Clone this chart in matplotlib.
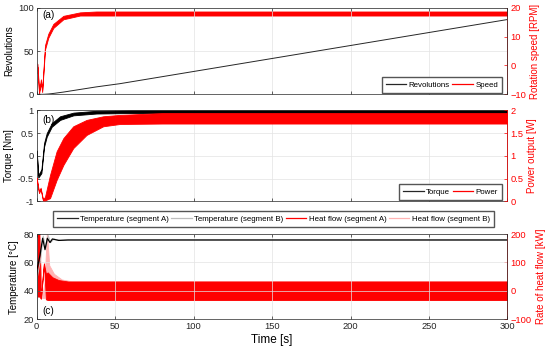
import numpy as np
import matplotlib
matplotlib.use("Agg")
import matplotlib.pyplot as plt
from matplotlib.lines import Line2D

plt.rcParams['font.family'] = ['Liberation Sans', 'DejaVu Sans']
plt.rcParams['font.size'] = 6

# (a) revolutions and rotation speed
t_rev = [0, 3, 5, 7.5, 10.5, 17, 27.5, 38, 53, 104, 150, 200, 250, 300]
revolutions = [0, 0, 0.1, 0.4, 1.0, 2.6, 5.6, 8.6, 12.3, 27.6, 41.4, 56.4, 71.4, 86.4]

t_speed = [0, 0.5, 1.5, 2.7, 3.5, 5.3, 7.4, 10.6, 17, 27.6, 38, 60, 300]
speed_hi = [0.8, 0.5, -9.0, -4.8, -8.5, 7.0, 11.0, 14.4, 17.2, 18.4, 18.7, 18.7, 18.7]
speed_lo = [-2.8, -0.5, -9.8, -6.0, -9.2, 5.5, 9.6, 13.0, 16.0, 17.3, 17.3, 17.3, 17.3]

# (b) torque and power
t_torque = [0, 1, 3, 4.7, 6.4, 9.6, 14.9, 23.4, 38, 60, 300]
torque_hi = [0.12, -0.42, -0.3, 0.28, 0.5, 0.72, 0.87, 0.95, 0.99, 1.0, 1.0]
torque_lo = [0.08, -0.48, -0.38, 0.2, 0.42, 0.64, 0.79, 0.89, 0.93, 0.94, 0.94]

t_power = [0, 1.5, 2.5, 4, 5.3, 8.5, 12.7, 17, 23.3, 31.8, 42.4, 53, 80, 300]
power_hi = [0.52, 0.2, 0.3, 0.04, 0.1, 0.58, 1.10, 1.39, 1.65, 1.79, 1.87, 1.90, 1.94, 1.94]
power_lo = [0.48, 0.18, 0.27, 0.02, 0.02, 0.07, 0.47, 0.80, 1.17, 1.46, 1.65, 1.70, 1.71, 1.71]

# (c) temperatures and heat flows
t_tempA = [0, 0.2, 2.1, 3.8, 5.3, 6.8, 8.5, 10, 14, 20, 300]
tempA = [20, 55, 65, 77, 69, 77, 74, 76.5, 75.5, 75.8, 75.8]
t_tempB = [0, 0.5, 2.5, 4.2, 5.8, 7.3, 9, 11, 15, 20, 300]
tempB = [20, 50, 62, 78.5, 70, 79, 74, 76.5, 75.5, 75.8, 75.8]

t_heatA = [0, 1.7, 2.7, 4.6, 5.9, 7, 10, 14, 20, 300]
heatA_hi = [210, 210, -25, 97, 60, 65, 48, 38, 33, 33]
heatA_lo = [-20, -20, -28, 95, -30, -32, -32, -32, -32, -32]
t_heatB = [0, 2, 3.5, 5, 6.5, 8, 11, 16, 22, 300]
heatB_hi = [150, 150, -20, 30, 210, 90, 60, 40, 34, 34]
heatB_lo = [-10, -10, -25, -25, -30, -32, -32, -32, -32, -32]

xticks = [0, 50, 100, 150, 200, 250, 300]

RED = '#ff0000'
PINK = '#ffb3b3'
GRAY = '#bdbdbd'
DARK = '#262626'

fig = plt.figure(figsize=(5.5, 3.52), dpi=100)
ax_a = fig.add_axes([0.0667, 0.732, 0.856, 0.246])
ax_b = fig.add_axes([0.0667, 0.428, 0.856, 0.2585])
ax_c = fig.add_axes([0.0667, 0.0929, 0.856, 0.2423])

leg_kw = dict(fontsize=5.7, fancybox=False, edgecolor='#555555', framealpha=1,
              handlelength=2.6, columnspacing=0.3, handletextpad=0.3,
              borderpad=0.5, borderaxespad=0)


def style(ax, ax2, ylim, yticks, ylim2, yticks2, ylabel, ylabel2, show_x):
    ax.set_xlim(0, 300)
    ax.set_xticks(xticks)
    if not show_x:
        ax.set_xticklabels([])
    ax.set_ylim(*ylim)
    ax.set_yticks(yticks)
    ax.grid(True, color='#e3e3e3', lw=0.5)
    ax.set_axisbelow(True)
    ax.tick_params(direction='in', length=2.5, width=0.5, colors=DARK, labelsize=6.7, pad=2,
                   top=True)
    ax.set_ylabel(ylabel, fontsize=7, labelpad=3)
    for s in ax.spines.values():
        s.set_linewidth(0.5)
        s.set_color(DARK)
    ax2.set_ylim(*ylim2)
    ax2.set_yticks(yticks2)
    ax2.tick_params(direction='in', length=2.5, width=0.5, colors=RED, labelsize=6.7, pad=2)
    ax2.set_ylabel(ylabel2, fontsize=7, color=RED, labelpad=3)
    for s in ax2.spines.values():
        s.set_visible(False)
    ax2.spines['right'].set_visible(True)
    ax2.spines['right'].set_color(RED)
    ax2.spines['right'].set_linewidth(0.5)


def handle(c):
    return Line2D([], [], color=c, lw=0.9)


# (a)
ax_a2 = ax_a.twinx()
ax_a.plot(t_rev, revolutions, color=DARK, lw=0.7, zorder=3)
ax_a2.fill_between(t_speed, speed_lo, speed_hi, color=RED, lw=0.6, edgecolor=RED)
style(ax_a, ax_a2, (0, 100), [0, 50, 100], (-10, 20), [-10, 0, 10, 20],
      'Revolutions', 'Rotation speed [RPM]', False)
ax_a.set_zorder(ax_a2.get_zorder() + 1)
ax_a.patch.set_visible(False)
ax_a.text(0.012, 0.88, '(a)', transform=ax_a.transAxes, fontsize=7.2)
ax_a.legend([handle(DARK), handle(RED)], ['Revolutions', 'Speed'], ncol=2,
            loc='lower right', bbox_to_anchor=(1 - 5.5 / 471, 1.5 / 86.6), **leg_kw)

# (b)
ax_b2 = ax_b.twinx()
ax_b.fill_between(t_torque, torque_lo, torque_hi, color='black', lw=0.6, edgecolor='black')
ax_b2.fill_between(t_power, power_lo, power_hi, color=RED, lw=0.6, edgecolor=RED)
style(ax_b, ax_b2, (-1, 1), [-1, -0.5, 0, 0.5, 1], (0, 2), [0, 0.5, 1, 1.5, 2],
      'Torque [Nm]', 'Power output [W]', False)
ax_b.set_yticklabels(['-1', '-0.5', '0', '0.5', '1'])
ax_b2.set_yticklabels(['0', '0.5', '1', '1.5', '2'])
ax_b.text(0.012, 0.86, '(b)', transform=ax_b.transAxes, fontsize=7.2)
ax_b2.legend([handle(DARK), handle(RED)], ['Torque', 'Power'], ncol=2,
             loc='lower right', bbox_to_anchor=(1 - 5.5 / 471, 1.5 / 91), **leg_kw)

# (c)
ax_c2 = ax_c.twinx()
ax_c2.fill_between(t_heatB, heatB_lo, heatB_hi, color=PINK, lw=0.6, edgecolor=PINK)
ax_c2.fill_between(t_heatA, heatA_lo, heatA_hi, color=RED, lw=0.6, edgecolor=RED)
ax_c.plot(t_tempB, tempB, color=GRAY, lw=0.7, zorder=3)
ax_c.plot(t_tempA, tempA, color='black', lw=0.9, zorder=4)
style(ax_c, ax_c2, (20, 80), [20, 40, 60, 80], (-100, 200), [-100, 0, 100, 200],
      'Temperature [°C]', 'Rate of heat flow [kW]', True)
ax_c.set_zorder(ax_c2.get_zorder() + 1)
ax_c.patch.set_visible(False)
ax_c.set_xlabel('Time [s]', fontsize=8.5, labelpad=2)
ax_c.text(0.012, 0.06, '(c)', transform=ax_c.transAxes, fontsize=7.2)
ax_c.legend([handle(DARK), handle(GRAY), handle(RED), handle(PINK)],
            ['Temperature (segment A)', 'Temperature (segment B)',
             'Heat flow (segment A)', 'Heat flow (segment B)'],
            ncol=4, loc='lower center', bbox_to_anchor=(0.503, 1.085), **leg_kw)

fig.savefig('out.png', dpi=100)
